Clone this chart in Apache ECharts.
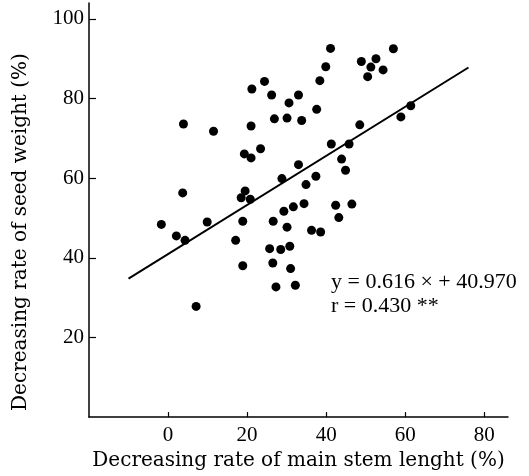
<!DOCTYPE html>
<html>
<head>
<meta charset="utf-8">
<script src="https://cdn.jsdelivr.net/npm/echarts@6/dist/echarts.min.js"></script>
<style>
  html, body { margin: 0; padding: 0; background: #fff; }
  #chart { width: 529px; height: 476px; }
</style>
</head>
<body>
<div id="chart"></div>
<script>
    // main stem length decrease (%) vs seed weight decrease (%)
    let stemRate = [
        -1.7, 2.1, 4.3, 3.9, 3.7, 7.1, 9.9, 11.5, 17.1, 18.9,
        18.9, 18.5, 19.5, 20.8, 19.3, 21.0, 21.0, 21.2, 23.4, 24.4,
        26.2, 26.9, 25.7, 26.5, 26.6, 27.3, 28.8, 29.3, 28.5, 30.1,
        30.6, 30.1, 30.8, 31.0, 31.7, 32.2, 33.0, 33.0, 33.8, 34.4,
        34.9, 36.3, 37.6, 37.4, 38.4, 38.6, 39.9, 41.1, 41.3, 42.4,
        43.2, 43.9, 44.9, 45.8, 46.5, 48.5, 48.9, 50.5, 51.3, 52.6,
        54.4, 57.0, 58.9, 61.4
    ];
    let seedRate = [
        48.4, 45.5, 44.4, 73.6, 56.3, 27.8, 49.0, 71.8, 44.4, 38.0,
        49.2, 55.1, 56.8, 54.7, 66.1, 65.1, 73.1, 82.4, 67.4, 84.3,
        80.9, 74.9, 42.3, 38.7, 49.2, 32.7, 59.9, 51.7, 42.1, 47.7,
        78.9, 75.1, 42.9, 37.3, 52.8, 33.1, 63.4, 80.9, 74.5, 53.6,
        58.4, 46.9, 77.3, 60.5, 84.5, 46.5, 88.0, 92.6, 68.6, 53.2,
        50.1, 64.8, 62.0, 68.6, 53.5, 73.4, 89.3, 85.5, 87.9, 90.0,
        87.2, 92.5, 75.4, 78.2
    ];
    let fitLineX = [-10, 76];
    let fitLineY = [34.8, 87.8];
    let xTicks = [0, 20, 40, 60, 80];
    let yTicks = [20, 40, 60, 80, 100];
    let equationText = 'y = 0.616 × + 40.970';
    let corrText = 'r = 0.430 **';

    let serif = '"Liberation Serif", "DejaVu Serif", serif';
    let wideSerif = '"DejaVu Serif", "Liberation Serif", serif';

    let points = stemRate.map((x, i) => [x, seedRate[i]]);
    let fitLine = fitLineX.map((x, i) => [x, fitLineY[i]]);

    let chart = echarts.init(document.getElementById('chart'));
    chart.setOption({
        animation: false,
        backgroundColor: '#fff',
        textStyle: { fontFamily: serif, color: '#000' },
        grid: { left: 89, right: 21, top: 3, bottom: 49 },
        xAxis: {
            type: 'value',
            min: -20,
            max: 86,
            interval: 20,
            name: 'Decreasing rate of main stem lenght (%)',
            nameLocation: 'middle',
            nameGap: 23,
            nameTextStyle: { fontFamily: wideSerif, fontSize: 20, color: '#000' },
            splitLine: { show: false },
            axisLine: { onZero: false, lineStyle: { color: '#000', width: 1.5 } },
            axisTick: { inside: true, length: 5, customValues: xTicks, lineStyle: { color: '#000', width: 1.2 } },
            axisLabel: { customValues: xTicks, fontFamily: serif, fontSize: 21, color: '#000', margin: 8 }
        },
        yAxis: {
            type: 'value',
            min: 0,
            max: 104,
            interval: 20,
            name: 'Decreasing rate of seed weight (%)',
            nameLocation: 'middle',
            nameGap: 58,
            nameTextStyle: { fontFamily: wideSerif, fontSize: 20, color: '#000', padding: [0, 44, 0, 0] },
            splitLine: { show: false },
            axisLine: { onZero: false, lineStyle: { color: '#000', width: 1.5 } },
            axisTick: { inside: true, length: 7, customValues: yTicks, lineStyle: { color: '#000', width: 1.2 } },
            axisLabel: { customValues: yTicks, fontFamily: serif, fontSize: 21, color: '#000', margin: 5 }
        },
        graphic: [
            {
                type: 'text',
                left: 331,
                top: 271,
                style: { text: equationText, font: '22px ' + serif, fill: '#000' }
            },
            {
                type: 'text',
                left: 331,
                top: 295,
                style: { text: corrText, font: '22px ' + serif, fill: '#000' }
            }
        ],
        series: [
            {
                type: 'line',
                data: fitLine,
                symbol: 'none',
                lineStyle: { color: '#000', width: 2 },
                z: 2
            },
            {
                type: 'scatter',
                data: points,
                symbolSize: 9,
                itemStyle: { color: '#000', opacity: 1 },
                z: 3
            }
        ]
    });
</script>
</body>
</html>
